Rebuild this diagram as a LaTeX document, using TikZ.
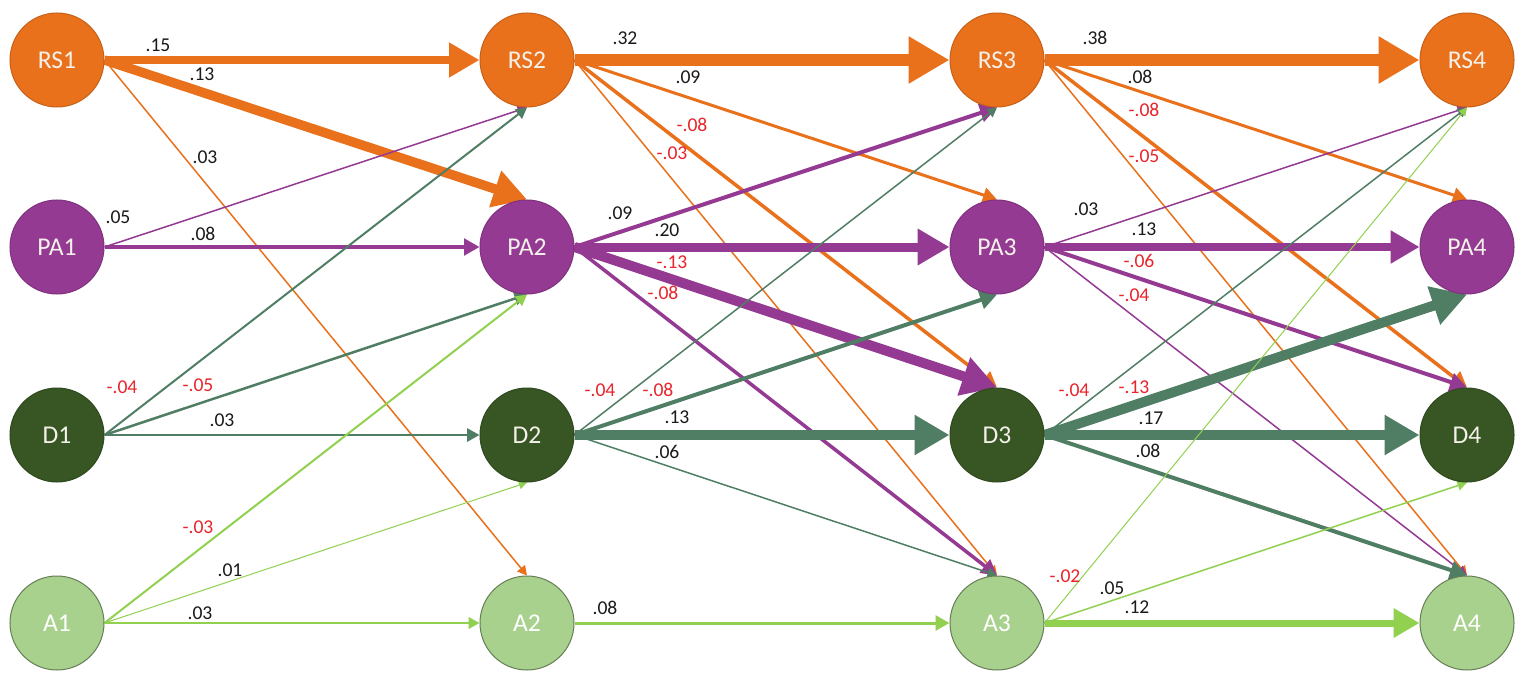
\documentclass[tikz,border=0pt]{standalone}
\usepackage{fontspec}
\setmainfont{Carlito}
\usetikzlibrary{arrows.meta,backgrounds}
\definecolor{cOr}{HTML}{E9711C}
\definecolor{cPu}{HTML}{953A93}
\definecolor{cDg}{HTML}{375623}
\definecolor{cDl}{HTML}{507E64}
\definecolor{cLg}{HTML}{A9D18E}
\definecolor{cLa}{HTML}{92D050}
\definecolor{cRed}{HTML}{E8252B}
\definecolor{cBlk}{HTML}{1A1A1A}
\definecolor{cTxt}{HTML}{F4F1EA}
\begin{document}
\begin{tikzpicture}[x=0.5pt,y=-0.5pt,
  st/.style={circle,minimum size=47pt,inner sep=0pt,text=cTxt,font=\fontsize{12.8}{14}\selectfont,line width=0.5pt},
  rsn/.style={st,fill=cOr,draw=cOr!85!black},
  pan/.style={st,fill=cPu,draw=cPu!85!black},
  dn/.style={st,fill=cDg,draw=cDg!85!black},
  an/.style={st,fill=cLg,draw=cLg!60!black,text=white},
  lab/.style={font=\fontsize{9.8}{11}\selectfont,text=cBlk,inner sep=0pt},
  neg/.style={lab,text=cRed},
  ar/.style={-{Triangle[length=2.5pt 3,width=2.5pt 3.3]}},
  eo/.style={ar,draw=cOr},
  ep/.style={ar,draw=cPu},
  ed/.style={ar,draw=cDl},
  ea/.style={ar,draw=cLa}
]
\path[use as bounding box] (0,0) rectangle (1524,679);
% nodes
\node[rsn] (RS1) at (57,60) {RS1};
\node[pan] (PA1) at (57,247) {PA1};
\node[dn]  (D1)  at (57,435) {D1};
\node[an]  (A1)  at (57,623) {A1};
\node[rsn] (RS2) at (527,60) {RS2};
\node[pan] (PA2) at (527,247) {PA2};
\node[dn]  (D2)  at (527,435) {D2};
\node[an]  (A2)  at (527,623) {A2};
\node[rsn] (RS3) at (997,60) {RS3};
\node[pan] (PA3) at (997,247) {PA3};
\node[dn]  (D3)  at (997,435) {D3};
\node[an]  (A3)  at (997,623) {A3};
\node[rsn] (RS4) at (1467,60) {RS4};
\node[pan] (PA4) at (1467,247) {PA4};
\node[dn]  (D4)  at (1467,435) {D4};
\node[an]  (A4)  at (1467,623) {A4};
\begin{scope}[on background layer]
\fill[white] (0,0) rectangle (1524,679);
% column 1 -> 2
\draw[eo,line width=4.25pt] (RS1.east) -- (RS2.west);
\draw[eo,line width=4.75pt] (RS1.east) -- (PA2.north);
\draw[eo,line width=0.75pt] (RS1.east) -- (A2.north);
\draw[ep,line width=0.75pt] (PA1.east) -- (RS2.south);
\draw[ep,line width=1.75pt] (PA1.east) -- (PA2.west);
\draw[ed,line width=1pt]    (D1.east) -- (RS2.south);
\draw[ed,line width=1.25pt] (D1.east) -- (PA2.south);
\draw[ed,line width=1.25pt] (D1.east) -- (D2.west);
\draw[ea,line width=1pt]    (A1.east) -- (PA2.south);
\draw[ea,line width=0.5pt]  (A1.east) -- (D2.south);
\draw[ea,line width=1pt]    (A1.east) -- (A2.west);
% column 2 -> 3
\draw[eo,line width=6pt]    (RS2.east) -- (RS3.west);
\draw[eo,line width=1.5pt]  (RS2.east) -- (PA3.north);
\draw[eo,line width=1.75pt] (RS2.east) -- (D3.north);
\draw[eo,line width=0.75pt] (RS2.east) -- (A3.north);
\draw[ep,line width=2pt]    (PA2.east) -- (RS3.south);
\draw[ep,line width=4.5pt]  (PA2.east) -- (PA3.west);
\draw[ep,line width=5pt]    (PA2.east) -- (D3.north);
\draw[ep,line width=1.75pt] (PA2.east) -- (A3.north);
\draw[ed,line width=0.75pt] (D2.east) -- (RS3.south);
\draw[ed,line width=2pt]    (D2.east) -- (PA3.south);
\draw[ed,line width=5pt]    (D2.east) -- (D3.west);
\draw[ed,line width=0.75pt] (D2.east) -- (A3.north);
\draw[ea,line width=1.5pt]  (A2.east) -- (A3.west);
% column 3 -> 4
\draw[eo,line width=6pt]    (RS3.east) -- (RS4.west);
\draw[eo,line width=1.5pt]  (RS3.east) -- (PA4.north);
\draw[eo,line width=1.75pt] (RS3.east) -- (D4.north);
\draw[eo,line width=0.75pt] (RS3.east) -- (A4.north);
\draw[ep,line width=0.75pt] (PA3.east) -- (RS4.south);
\draw[ep,line width=4pt]    (PA3.east) -- (PA4.west);
\draw[ep,line width=2pt]    (PA3.east) -- (D4.north);
\draw[ep,line width=0.75pt] (PA3.east) -- (A4.north);
\draw[ed,line width=0.75pt] (D3.east) -- (RS4.south);
\draw[ed,line width=5pt]    (D3.east) -- (PA4.south);
\draw[ed,line width=5pt]    (D3.east) -- (D4.west);
\draw[ed,line width=2pt]    (D3.east) -- (A4.north);
\draw[ea,line width=0.5pt]  (A3.east) -- (RS4.south);
\draw[ea,line width=0.75pt] (A3.east) -- (D4.south);
\draw[ea,line width=3.5pt]  (A3.east) -- (A4.west);
\end{scope}
% labels column 1 -> 2
\node[lab] (l01) at (158,45)  {.15};
\node[lab] (l02) at (202,74)  {.13};
\node[lab] (l03) at (205,157) {.03};
\node[lab] (l04) at (118,217) {.05};
\node[lab] (l05) at (203,234) {.08};
\node[neg] (l06) at (122,387) {-.04};
\node[neg] (l07) at (198,385) {-.05};
\node[lab] (l08) at (222,420) {.03};
\node[neg] (l09) at (198,527) {-.03};
\node[lab] (l10) at (230,570) {.01};
\node[lab] (l11) at (200,613) {.03};
% labels column 2 -> 3
\node[lab] (l12) at (625,38)  {.32};
\node[lab] (l13) at (688,77)  {.09};
\node[neg] (l14) at (692,125) {-.08};
\node[neg] (l15) at (672,153) {-.03};
\node[lab] (l16) at (620,213) {.09};
\node[lab] (l17) at (667,230) {.20};
\node[neg] (l18) at (672,262) {-.13};
\node[neg] (l19) at (663,293) {-.08};
\node[neg] (l20) at (600,390) {-.04};
\node[neg] (l21) at (658,390) {-.08};
\node[lab] (l22) at (677,417) {.13};
\node[lab] (l23) at (667,452) {.06};
\node[lab] (l24) at (605,608) {.08};
% labels column 3 -> 4
\node[lab] (l25) at (1095,38)  {.38};
\node[lab] (l26) at (1140,77)  {.08};
\node[neg] (l27) at (1144,110) {-.08};
\node[neg] (l28) at (1144,156) {-.05};
\node[lab] (l29) at (1086,209) {.03};
\node[lab] (l30) at (1144,229) {.13};
\node[neg] (l31) at (1139,261) {-.06};
\node[neg] (l32) at (1134,295) {-.04};
\node[neg] (l33) at (1074,390) {-.04};
\node[neg] (l34) at (1134,387) {-.13};
\node[lab] (l35) at (1151,418) {.17};
\node[lab] (l36) at (1148,451) {.08};
\node[neg] (l37) at (1065,576) {-.02};
\node[lab] (l38) at (1112,588) {.05};
\node[lab] (l39) at (1137,607) {.12};
\end{tikzpicture}
\end{document}
